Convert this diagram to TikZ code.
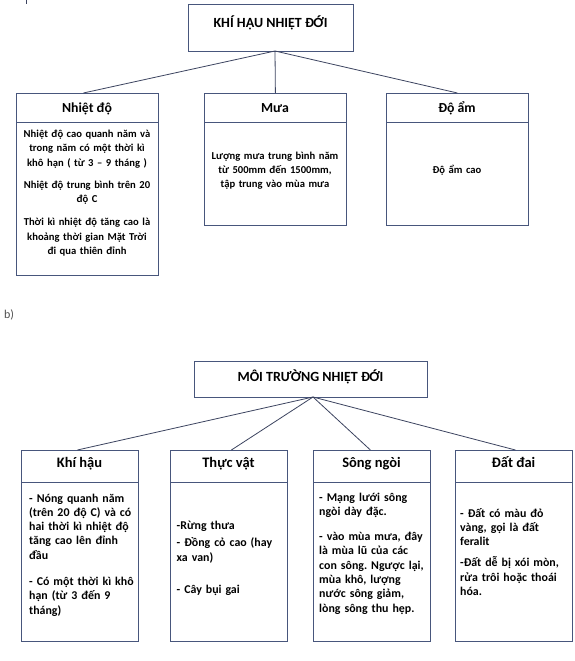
\documentclass[tikz,border=0pt]{standalone}
\usepackage{fontspec}
\setmainfont{Carlito}
\usetikzlibrary{calc}
\definecolor{boxc}{RGB}{72,86,124}
\definecolor{linec}{RGB}{60,68,96}
\definecolor{labc}{RGB}{80,80,80}
\frenchspacing
\begin{document}
\begin{tikzpicture}[x=1pt,y=1pt,
  box/.style={draw=boxc, line width=0.8pt, inner sep=0pt, anchor=north west, fill=white},
  divline/.style={draw=boxc, line width=0.8pt},
  conn/.style={draw=linec, line width=0.8pt},
  ttl/.style={font=\bfseries\fontsize{14}{17}\selectfont, inner sep=0pt, anchor=base},
  hdA/.style={font=\bfseries\fontsize{13.8}{17}\selectfont, inner sep=0pt, anchor=base},
  hdB/.style={font=\bfseries\fontsize{14.5}{18}\selectfont, inner sep=0pt, anchor=base},
  bodyA/.style={font=\bfseries\fontsize{10.6}{14.5}\selectfont, inner sep=0pt, text width=140pt, align=center, anchor=base},
  bodyB/.style={font=\bfseries\fontsize{11.9}{14.3}\selectfont, inner sep=0pt, text width=112pt, align=left, anchor=base west},
]
\useasboundingbox[fill=white] (0,0) rectangle (574,-661);

% fragment mark at top left
\draw[linec, line width=0.8pt] (26,0) -- (26,-4);

% ===== Part a =====
\node[box, minimum width=165pt, minimum height=47pt] (t1) at (188,-4) {};
\node[ttl] (t1t) at (270.5,-28) {KHÍ HẬU NHIỆT ĐỚI};
\coordinate (t1o) at (275,-51);

\node[box, minimum width=142pt, minimum height=182pt] (nd) at (16,-93) {};
\node[box, minimum width=142pt, minimum height=132pt] (mu) at (204,-93) {};
\node[box, minimum width=142pt, minimum height=132pt] (da) at (386,-93) {};
\foreach \b in {nd,mu,da}{
  \draw[divline] ($(\b.north west)+(0,-29)$) -- ($(\b.north east)+(0,-29)$);
}
\node[hdA] (ndh) at (87,-112) {Nhiệt độ};
\node[hdA] (muh) at (275,-112) {Mưa};
\node[hdA] (dah) at (457,-112) {Độ ẩm};

\node[bodyA] (ndb) at (87,-137) {Nhiệt độ cao quanh năm và\\trong năm có một thời kì\\khô hạn ( từ 3 – 9 tháng )\\[7.5pt]Nhiệt độ trung bình trên 20\\độ C\\[8.5pt]Thời kì nhiệt độ tăng cao là\\khoảng thời gian Mặt Trời\\đi qua thiên đỉnh};
\node[bodyA, font=\bfseries\fontsize{10.6}{14}\selectfont] (mub) at (275,-159) {Lượng mưa trung bình năm\\từ 500mm đến 1500mm,\\tập trung vào mùa mưa};
\node[bodyA] (dab) at (457,-173) {Độ ẩm cao};

\draw[conn] (t1o) -- ($(nd.north)+(-4,0)$);
\draw[conn] (t1o) -- (mu.north);
\draw[conn] (t1o) -- (da.north);

% ===== label b =====
\node[font=\fontsize{12}{14}\selectfont, text=labc, inner sep=0pt, anchor=base west] (lb) at (4,-318) {b)};

% ===== Part b =====
\node[box, minimum width=233pt, minimum height=36pt] (t2) at (194,-361) {};
\node[ttl] (t2t) at (310.5,-381) {MÔI TRƯỜNG NHIỆT ĐỚI};
\coordinate (t2o) at (313,-397);

\node[box, minimum width=117pt, minimum height=191pt] (kh) at (21,-450) {};
\node[box, minimum width=117pt, minimum height=191pt] (tv) at (170,-450) {};
\node[box, minimum width=117pt, minimum height=191pt] (sn) at (313,-450) {};
\node[box, minimum width=117pt, minimum height=191pt] (dd) at (455,-450) {};
\foreach \b in {kh,tv,sn,dd}{
  \draw[divline] ($(\b.north west)+(0,-32)$) -- ($(\b.north east)+(0,-32)$);
}
\node[hdB] (khh) at (79.5,-467) {Khí hậu};
\node[hdB] (tvh) at (228.5,-467) {Thực vật};
\node[hdB] (snh) at (371.5,-467) {Sông ngòi};
\node[hdB] (ddh) at (513.5,-467) {Đất đai};

\node[bodyB] (khb) at (29,-502) {- Nóng quanh năm\\(trên 20 độ C) và có\\hai thời kì nhiệt độ\\tăng cao lên đỉnh\\đầu\\[12pt]- Có một thời kì khô\\hạn (từ 3 đến 9\\tháng)};
\node[bodyB] (tvb) at (176.5,-529) {-Rừng thưa\\[3.5pt]- Đồng cỏ cao (hay\\xa van)\\[18pt]- Cây bụi gai};
\node[bodyB] (snb) at (319,-501) {- Mạng lưới sông\\ngòi dày đặc.\\[11pt]- vào mùa mưa, đây\\là mùa lũ của các\\con sông. Ngược lại,\\mùa khô, lượng\\nước sông giảm,\\lòng sông thu hẹp.};
\node[bodyB] (ddb) at (460,-517) {- Đất có màu đỏ\\vàng, gọi là đất\\feralit\\[7pt]-Đất dễ bị xói mòn,\\rửa trôi hoặc thoái\\hóa.};

\draw[conn] (t2o) -- ($(kh.north)+(-2.5,0)$);
\draw[conn] (t2o) -- ($(tv.north)+(2.5,0)$);
\draw[conn] (t2o) -- ($(sn.north)+(-1.5,0)$);
\draw[conn] (t2o) -- ($(dd.north)+(1.5,0)$);
\end{tikzpicture}
\end{document}
